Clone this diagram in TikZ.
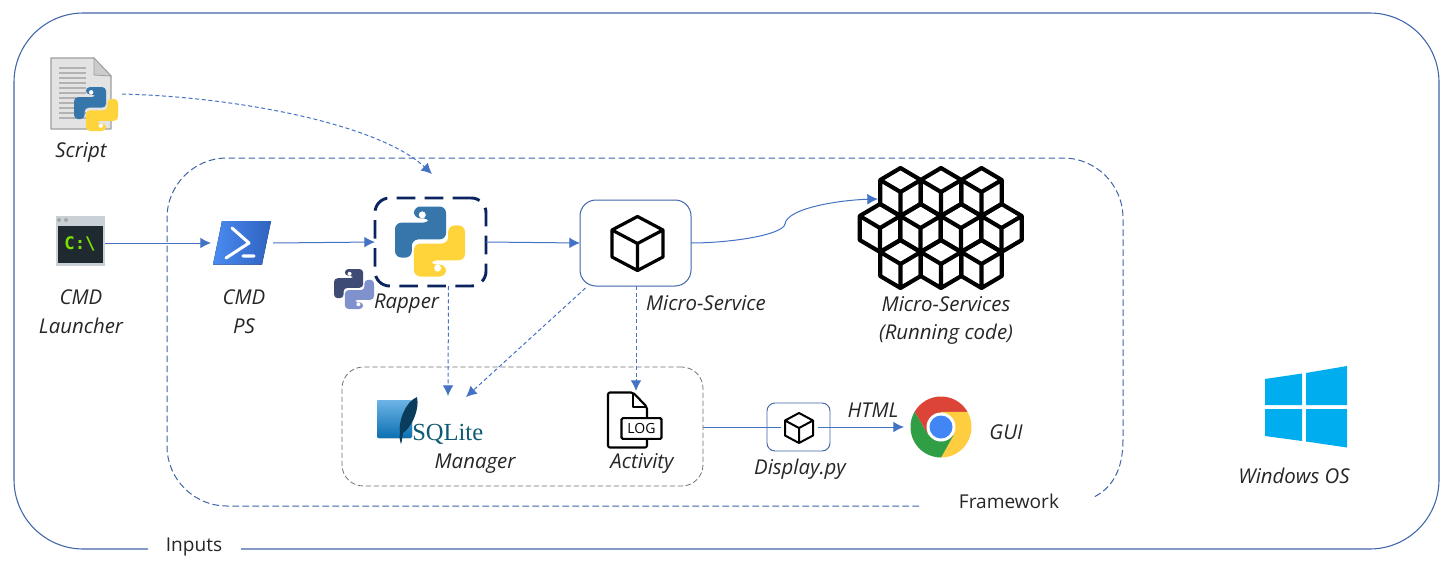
\documentclass[tikz,border=0pt]{standalone}
\usepackage{fontspec}
\setmainfont{Open Sans}
\newfontfamily\sqlfont{Liberation Serif}
\newfontfamily\cmdfont{DejaVu Sans Mono}
\usetikzlibrary{arrows.meta}
\definecolor{linkblue}{HTML}{4472C4}
\definecolor{frameblue}{HTML}{3F64A8}
\definecolor{navydash}{HTML}{0B2460}
\definecolor{txt}{HTML}{262626}
\definecolor{pyb}{HTML}{3776AB}
\definecolor{pyy}{HTML}{FFD43B}
\definecolor{pyn}{HTML}{3E4B75}
\definecolor{pyl}{HTML}{7F92CE}
\definecolor{winblue}{HTML}{00ADEF}
\definecolor{cmdbar}{HTML}{C9D1D6}
\definecolor{cmdblack}{HTML}{1F2A30}
\definecolor{cmdgreen}{HTML}{7CE000}
\definecolor{psa}{HTML}{4A8BF0}
\definecolor{psb}{HTML}{2F62C0}
\definecolor{sqa}{HTML}{6DB4E6}
\definecolor{sqb}{HTML}{0C70B2}
\definecolor{sqd}{HTML}{0A3D5C}
\definecolor{sqt}{HTML}{0F5A75}
\definecolor{chr}{HTML}{DB4437}
\definecolor{chy}{HTML}{FFCD40}
\definecolor{chg}{HTML}{2F9E44}
\definecolor{chb}{HTML}{4285F4}
\newcommand{\pylogo}[5]{%
 \pgfmathsetmacro{\rcv}{#3*0.07}%
 \begin{scope}[shift={(#1,#2)},scale=#3/100,rounded corners=\rcv pt]
  \fill[#4] (-23,-50)--(23,-50)--(23,-3)--(-26,-3)--(-26,23)--(-50,23)--(-50,-27)--(0,-27)--(0,-33)--(-23,-33)--cycle;
  \fill[#5] (23,50)--(-23,50)--(-23,3)--(26,3)--(26,-23)--(50,-23)--(50,27)--(0,27)--(0,33)--(23,33)--cycle;
  \fill[white,sharp corners] (-11,-38) circle (5) (11,38) circle (5);
 \end{scope}}
\newcommand{\cubeicon}[5]{%
 \draw[black,line width=#5,line join=round]
  (#1,#2-#4)--(#1+#3,#2-#4/2)--(#1+#3,#2+#4/2)--(#1,#2+#4)--(#1-#3,#2+#4/2)--(#1-#3,#2-#4/2)--cycle
  (#1-#3,#2-#4/2)--(#1,#2)--(#1+#3,#2-#4/2) (#1,#2)--(#1,#2+#4);}
\tikzset{
 lbl/.style={font=\fontsize{15.3}{17}\selectfont\itshape,text=txt,align=center,inner sep=0pt},
 plainlbl/.style={font=\fontsize{14.3}{16}\selectfont,text=txt,inner sep=0pt},
 solidlink/.style={linkblue,line width=0.75pt,-{Latex[length=8pt,width=8pt]}},
 dashlink/.style={linkblue,line width=0.75pt,dash pattern=on 3pt off 2pt,-{Latex[length=8pt,width=8pt]}},
 outerframe/.style={frameblue,line width=0.8pt,rounded corners=52pt},
 fwframe/.style={frameblue,line width=0.75pt,dash pattern=on 5pt off 2.5pt},
 graybox/.style={draw=black!55,line width=0.6pt,dash pattern=on 4pt off 2pt,rounded corners=16pt,inner sep=0pt,outer sep=0pt},
 rapbox/.style={draw=navydash,line width=2.2pt,dash pattern=on 14pt off 7pt,rounded corners=11pt,inner sep=0pt,outer sep=0pt,minimum width=83.25pt,minimum height=66pt},
 svcbox/.style={draw=frameblue,line width=0.75pt,rounded corners=12pt,inner sep=0pt,outer sep=0pt,minimum width=83.25pt,minimum height=64.5pt},
 dispbox/.style={draw=frameblue,line width=0.7pt,rounded corners=6pt,inner sep=0pt,outer sep=0pt,minimum width=47.25pt,minimum height=36pt},
}
\begin{document}
\begin{tikzpicture}[x=0.75pt,y=-0.75pt]
\useasboundingbox (0,0) rectangle (1450,561);
\fill[white] (0,0) rectangle (1450,561);
% frames
\draw[outerframe] (148,549)--(14,549)--(14,13)--(1439,13)--(1439,549)--(241,549);
\draw[fwframe,rounded corners=45pt] (919,506)--(167,506)--(167,158)--(1123,158)--(1123,440);
\draw[fwframe] (1123,440) .. controls (1123,470) and (1112,488) .. (1094,497);
\node[graybox,minimum width=270.75pt,minimum height=89.25pt] (store) at (522.5,426.5) {};
% boxes
\node[rapbox] (rapper) at (430.5,242) {};
\node[svcbox] (svc) at (635.5,243) {};
\node[dispbox] (disp) at (798.5,427) {};
% script icon
\filldraw[fill=black!11,draw=black!38,line width=0.8pt,line join=round] (51,58)--(94,58)--(111,76)--(111,129)--(51,129)--cycle;
\filldraw[fill=black!20,draw=black!38,line width=0.6pt] (94,58)--(94,75)--(111,76)--cycle;
\foreach \yy in {68,73,...,118}{\draw[black!30,line width=0.8pt] (59,\yy)--(86,\yy);}
\pylogo{96}{109}{44}{pyb}{pyy}
% cmd icon
\fill[cmdbar] (56,216) rectangle (105,266);
\fill[cmdblack] (58,226) rectangle (103,263);
\fill[gray!70] (59,220) circle (2) (66,220) circle (2);
\node[font=\cmdfont\bfseries\fontsize{13}{14}\selectfont,text=cmdgreen,inner sep=0pt] (cmdtxt) at (80,244) {C:\textbackslash};
\coordinate (cmdout) at (105,243);
% powershell
\fill[left color=psa,right color=psb] (222,221)--(271,221)--(262,264.5)--(213,264.5)--cycle;
\draw[white,line width=2.3pt,line cap=round,line join=round] (232,228)--(249,243)--(226,258) (243,256)--(254,256);
\coordinate (psin) at (211,243);
\coordinate (psout) at (273,243);
% python logos
\pylogo{430}{241.5}{70}{pyb}{pyy}
\pylogo{354}{289}{40}{pyn}{pyl}
% cube icons
\cubeicon{637.5}{243.5}{25.5}{27}{2.4pt}
\cubeicon{799}{428}{14}{15}{1.5pt}
% cube cluster
\foreach \cx in {900.5,941,981.5}{\cubeicon{\cx}{192}{20.3}{24}{3.1pt}}
\foreach \cx in {880,920.5,961,1001.5}{\cubeicon{\cx}{228}{20.3}{24}{3.1pt}}
\foreach \cx in {900.5,941,981.5}{\cubeicon{\cx}{264}{20.3}{24}{3.1pt}}
\coordinate (clusterin) at (878,199);
% sqlite
\fill[top color=sqa,bottom color=sqb,rounded corners=1pt] (377,400) rectangle (412,438);
\fill[sqd] (417,397) .. controls (405,402) and (398,422) .. (400,433) .. controls (399,437) and (400,441) .. (401,444) .. controls (402,442) and (402,438) .. (403,433) .. controls (411,428) and (420,410) .. (417,397) -- cycle;
\node[font=\sqlfont\fontsize{18.4}{20}\selectfont,text=sqt,anchor=base west,inner sep=0pt] (sqltxt) at (412,440) {SQLite};
\coordinate (sqlA) at (448,396);
\coordinate (sqlB) at (466,397);
% log icon
\draw[black,line width=1.6pt,line join=round,rounded corners=1.5pt] (647,418)--(647,407)--(633,392.5)--(608,392.5)--(608,447.5)--(647,447.5)--(647,439);
\draw[black,line width=1.6pt,line join=round] (633,392.5)--(633,407)--(647,407);
\node[draw=black,line width=1.6pt,fill=white,rounded corners=1pt,font=\fontsize{10.5}{12}\selectfont,text=black,inner sep=0pt,minimum width=30pt,minimum height=15.5pt] (logbox) at (641.5,428.5) {LOG};
\coordinate (login) at (636,391);
\coordinate (dispout) at (818,427);
\coordinate (dispin) at (781,427);
% chrome
\begin{scope}[shift={(941,427)},y=0.75pt]
 \foreach \rot/\col in {0/chr,-120/chy,120/chg}{
  \fill[\col,rotate=\rot] (30:30.5) arc (30:150:30.5) -- (210:15) -- (90:15) -- cycle;}
 \fill[white] (0,0) circle (14.5);
 \fill[chb] (0,0) circle (11.5);
\end{scope}
\coordinate (chromein) at (904,427);
% windows
\fill[winblue] (1265,379)--(1302,373.5)--(1302,405)--(1265,405)--cycle;
\fill[winblue] (1306,373)--(1347,366)--(1347,405)--(1306,405)--cycle;
\fill[winblue] (1265,409)--(1302,409)--(1302,441)--(1265,436)--cycle;
\fill[winblue] (1306,409)--(1347,409)--(1347,447.5)--(1306,441.5)--cycle;
% connectors
\coordinate (scriptout) at (122,94);
\coordinate (rapperin) at (432,174);
\draw[dashlink] (scriptout) .. controls (240,97) and (380,125) .. (rapperin);
\draw[solidlink] (cmdout) -- (psin);
\draw[solidlink] (psout) -- (rapper.west);
\draw[solidlink] (rapper.east) -- (svc.west);
\draw[linkblue,line width=0.75pt,-{Latex[length=8pt,width=8pt]}] (svc.east) .. controls (730,243) and (783,235) .. (785,224) .. controls (787,208) and (840,200) .. (clusterin);
\draw[dashlink] ([xshift=13.5pt]rapper.south) -- (sqlA);
\draw[dashlink] ([xshift=-37.5pt,yshift=-1.5pt]svc.south) -- (sqlB);
\draw[dashlink] (svc.south) ++(0.5,0) -- (login);
\draw[linkblue,line width=0.75pt] (store.east) ++(0,0.5) -- (dispin);
\draw[solidlink] (dispout) -- (chromein);
% labels
\node[lbl] (tscript) at (81,152.5) {Script};
\node[lbl] (tcmd) at (81,311.5) {CMD\\[4.5pt]Launcher};
\node[lbl] (tps) at (244,311.5) {CMD\\[4.5pt]PS};
\node[lbl] (trap) at (406.5,303.5) {Rapper};
\node[lbl] (tsvc) at (706,303.5) {Micro-Service};
\node[lbl] (tsvcs) at (946,320.5) {Micro-Services\\[4.5pt](Running code)};
\node[lbl] (tman) at (475,463.5) {Manager};
\node[lbl] (tact) at (642,463.5) {Activity};
\node[lbl] (tdisp) at (800,469) {Display.py};
\node[lbl] (thtml) at (873,410) {HTML};
\node[lbl] (tgui) at (1006,432) {GUI};
\node[lbl] (twin) at (1294,475.5) {Windows OS};
\node[plainlbl] (tfw) at (1009,501) {Framework};
\node[plainlbl] (tin) at (194,547) {Inputs};
\end{tikzpicture}
\end{document}
